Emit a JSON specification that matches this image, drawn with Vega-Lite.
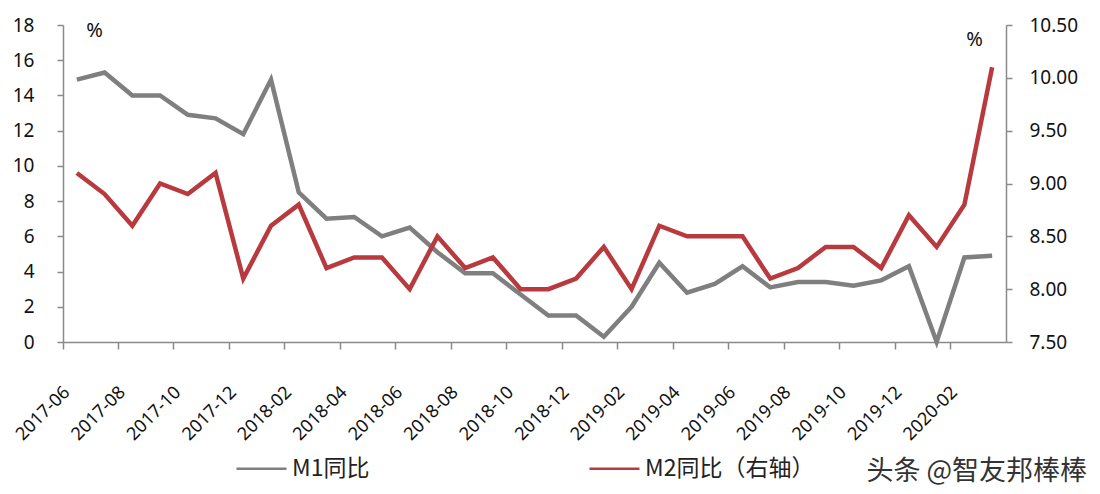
{
  "$schema": "https://vega.github.io/schema/vega-lite/v6.json",
  "width": 943,
  "height": 317,
  "autosize": {"type": "none"},
  "padding": {"left": 63, "top": 25, "right": 94, "bottom": 152},
  "background": "white",
  "config": {"view": {"stroke": null}, "font": "Noto Sans"},
  "title": {
    "text": "头条 @智友邦棒棒",
    "orient": "bottom",
    "anchor": "end",
    "frame": "group",
    "offset": -22,
    "dx": 81,
    "font": "Noto Sans CJK SC",
    "fontSize": 27,
    "fontWeight": "normal",
    "color": "#333333"
  },
  "data": {
    "values": [
      {"month": "2017-06", "m1": 14.9, "m2": 9.1},
      {"month": "2017-07", "m1": 15.3, "m2": 8.9},
      {"month": "2017-08", "m1": 14.0, "m2": 8.6},
      {"month": "2017-09", "m1": 14.0, "m2": 9.0},
      {"month": "2017-10", "m1": 12.9, "m2": 8.9},
      {"month": "2017-11", "m1": 12.7, "m2": 9.1},
      {"month": "2017-12", "m1": 11.8, "m2": 8.1},
      {"month": "2018-01", "m1": 14.9, "m2": 8.6},
      {"month": "2018-02", "m1": 8.5, "m2": 8.8},
      {"month": "2018-03", "m1": 7.0, "m2": 8.2},
      {"month": "2018-04", "m1": 7.1, "m2": 8.3},
      {"month": "2018-05", "m1": 6.0, "m2": 8.3},
      {"month": "2018-06", "m1": 6.5, "m2": 8.0},
      {"month": "2018-07", "m1": 5.1, "m2": 8.5},
      {"month": "2018-08", "m1": 3.9, "m2": 8.2},
      {"month": "2018-09", "m1": 3.9, "m2": 8.3},
      {"month": "2018-10", "m1": 2.7, "m2": 8.0},
      {"month": "2018-11", "m1": 1.5, "m2": 8.0},
      {"month": "2018-12", "m1": 1.5, "m2": 8.1},
      {"month": "2019-01", "m1": 0.3, "m2": 8.4},
      {"month": "2019-02", "m1": 2.0, "m2": 8.0},
      {"month": "2019-03", "m1": 4.5, "m2": 8.6},
      {"month": "2019-04", "m1": 2.8, "m2": 8.5},
      {"month": "2019-05", "m1": 3.3, "m2": 8.5},
      {"month": "2019-06", "m1": 4.3, "m2": 8.5},
      {"month": "2019-07", "m1": 3.1, "m2": 8.1},
      {"month": "2019-08", "m1": 3.4, "m2": 8.2},
      {"month": "2019-09", "m1": 3.4, "m2": 8.4},
      {"month": "2019-10", "m1": 3.2, "m2": 8.4},
      {"month": "2019-11", "m1": 3.5, "m2": 8.2},
      {"month": "2019-12", "m1": 4.3, "m2": 8.7},
      {"month": "2020-01", "m1": 0.0, "m2": 8.4},
      {"month": "2020-02", "m1": 4.8, "m2": 8.8},
      {"month": "2020-03", "m1": 4.9, "m2": 10.1}
    ]
  },
  "encoding": {
    "x": {
      "field": "month",
      "type": "ordinal",
      "scale": {"type": "band", "paddingInner": 0, "paddingOuter": 0},
      "axis": {
        "title": null,
        "values": ["2017-06","2017-08","2017-10","2017-12","2018-02","2018-04","2018-06","2018-08","2018-10","2018-12","2019-02","2019-04","2019-06","2019-08","2019-10","2019-12","2020-02"],
        "bandPosition": 0,
        "labelOffset": -16,
        "labelAngle": -45,
        "labelFontSize": 18,
        "labelColor": "#111111",
        "labelPadding": 34,
        "tickSize": 7,
        "tickColor": "#8a8a8a",
        "tickWidth": 1.5,
        "domainColor": "#8a8a8a",
        "domainWidth": 1.5,
        "grid": false
      }
    }
  },
  "layer": [
    {
      "mark": {"type": "line", "strokeWidth": 4.5},
      "encoding": {
        "y": {
          "field": "m1",
          "type": "quantitative",
          "scale": {"domain": [0, 18], "nice": false},
          "axis": {
            "orient": "left",
            "values": [0, 2, 4, 6, 8, 10, 12, 14, 16, 18],
            "grid": false,
            "domainColor": "#8a8a8a",
            "domainWidth": 1.5,
            "tickColor": "#8a8a8a",
            "tickWidth": 1.5,
            "tickSize": 6,
            "labelFontSize": 19,
            "labelColor": "#111111",
            "labelPadding": 23,
            "title": "%",
            "titleAngle": 0,
            "titleX": 31,
            "titleY": 5,
            "titleAlign": "center",
            "titleBaseline": "middle",
            "titleFontSize": 20,
            "titleFontWeight": "normal",
            "titleColor": "#111111"
          }
        },
        "color": {
          "datum": "M1同比",
          "type": "nominal",
          "scale": {"domain": ["M1同比", "M2同比（右轴）"], "range": ["#7f7f7f", "#b83a3e"]},
          "legend": {
            "orient": "none",
            "legendX": 172,
            "legendY": 417,
            "direction": "horizontal",
            "columns": 2,
            "title": null,
            "symbolType": "stroke",
            "symbolSize": 2500,
            "symbolStrokeWidth": 2.5,
            "labelFont": "Noto Sans CJK SC",
            "labelFontSize": 23,
            "labelLimit": 400,
            "labelColor": "#222222",
            "labelOffset": 4,
            "columnPadding": 214
          }
        }
      }
    },
    {
      "mark": {"type": "line", "strokeWidth": 4.5},
      "encoding": {
        "y": {
          "field": "m2",
          "type": "quantitative",
          "scale": {"domain": [7.5, 10.5], "nice": false, "zero": false},
          "axis": {
            "orient": "right",
            "values": [7.5, 8, 8.5, 9, 9.5, 10, 10.5],
            "format": ".2f",
            "grid": false,
            "domainColor": "#8a8a8a",
            "domainWidth": 1.5,
            "tickColor": "#8a8a8a",
            "tickWidth": 1.5,
            "tickSize": 6,
            "labelFontSize": 19,
            "labelColor": "#111111",
            "labelPadding": 17,
            "title": "%",
            "titleAngle": 0,
            "titleX": -32,
            "titleY": 14,
            "titleAlign": "center",
            "titleBaseline": "middle",
            "titleFontSize": 20,
            "titleFontWeight": "normal",
            "titleColor": "#111111"
          }
        },
        "color": {"datum": "M2同比（右轴）", "type": "nominal"}
      }
    }
  ],
  "resolve": {"scale": {"y": "independent"}}
}
